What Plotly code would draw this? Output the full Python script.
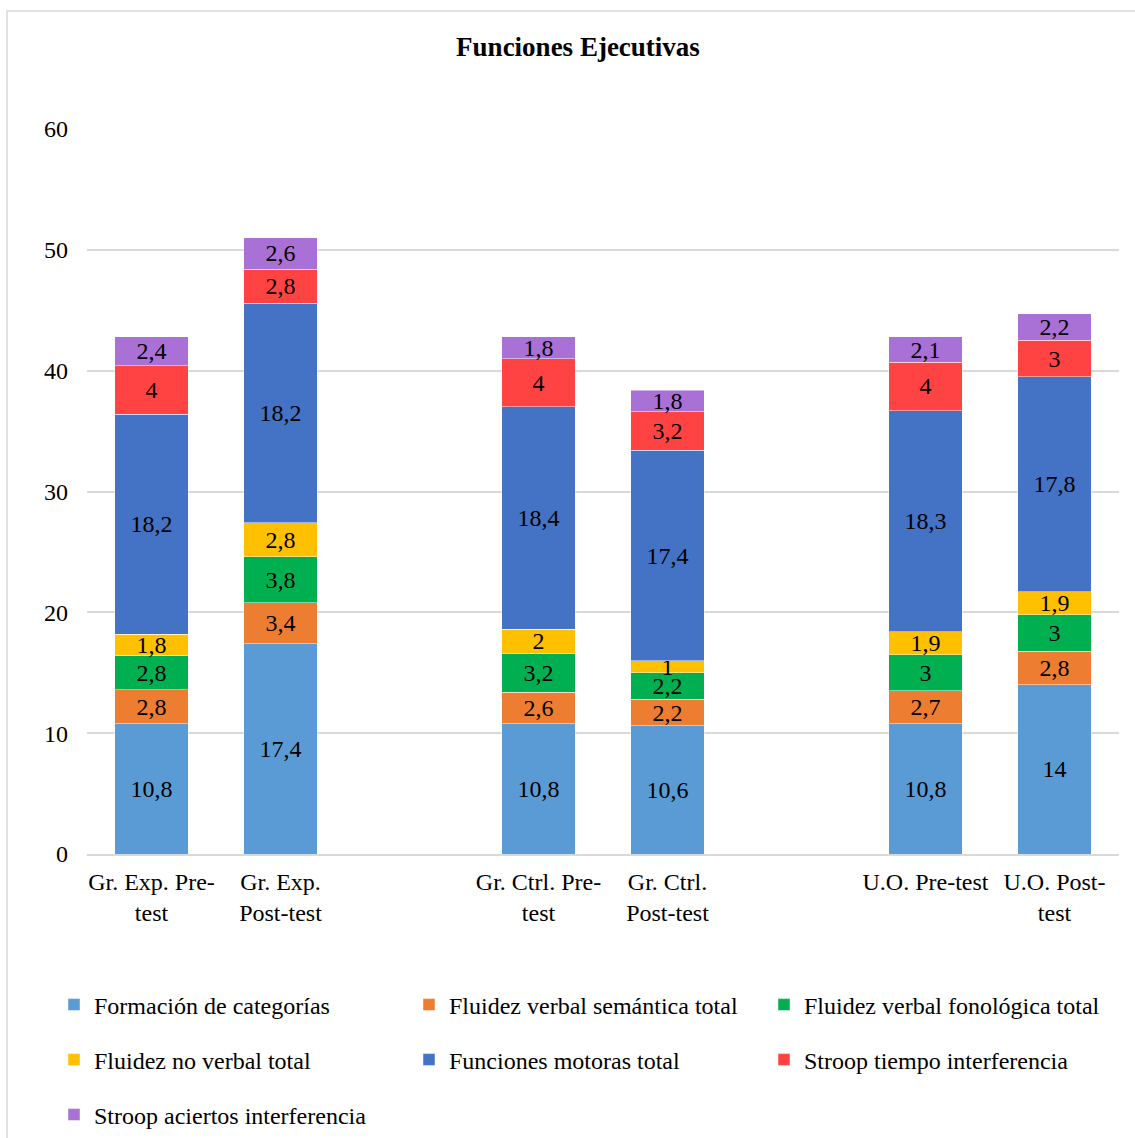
import plotly.graph_objects as go

categories = ["Gr. Exp. Pre-<br>test", "Gr. Exp.<br>Post-test", " ",
              "Gr. Ctrl. Pre-<br>test", "Gr. Ctrl.<br>Post-test", "  ",
              "U.O. Pre-test", "U.O. Post-<br>test"]

series_names = ["Formación de categorías", "Fluidez verbal semántica total",
                "Fluidez verbal fonológica total", "Fluidez no verbal total",
                "Funciones motoras total", "Stroop tiempo interferencia",
                "Stroop aciertos interferencia"]

formacion = [10.8, 17.4, None, 10.8, 10.6, None, 10.8, 14]
semantica = [2.8, 3.4, None, 2.6, 2.2, None, 2.7, 2.8]
fonologica = [2.8, 3.8, None, 3.2, 2.2, None, 3, 3]
no_verbal = [1.8, 2.8, None, 2, 1, None, 1.9, 1.9]
motoras = [18.2, 18.2, None, 18.4, 17.4, None, 18.3, 17.8]
stroop_tiempo = [4, 2.8, None, 4, 3.2, None, 4, 3]
stroop_aciertos = [2.4, 2.6, None, 1.8, 1.8, None, 2.1, 2.2]

series_values = [formacion, semantica, fonologica, no_verbal, motoras,
                 stroop_tiempo, stroop_aciertos]
colors = ["#5B9BD5", "#ED7D31", "#00B050", "#FFC000", "#4472C4", "#FF4343", "#A970D6"]
legend_ids = ["legend", "legend", "legend", "legend2", "legend2", "legend2", "legend3"]

FONT = "Liberation Serif, Times New Roman, serif"

W, H = 1135, 1138
ML, MR, MT, MB = 87, 16, 129, 284
PW = W - ML - MR
PH = H - MT - MB


def px_x(p):
    return (p - ML) / PW


def px_y(p):
    return (H - MB - p) / PH


def fmt(v):
    if v is None:
        return ""
    s = ("%g" % v)
    return s.replace(".", ",")


fig = go.Figure()
for name, vals, col, lg in zip(series_names, series_values, colors, legend_ids):
    fig.add_trace(go.Bar(
        x=categories, y=vals, name=name, legend=lg,
        marker=dict(color=col, line=dict(color="rgba(255,255,255,0.6)", width=0.8)),
        text=[fmt(v) for v in vals], textposition="inside",
        insidetextanchor="middle", textangle=0, constraintext="none",
        textfont=dict(family=FONT, size=24, color="black"),
        hoverinfo="skip",
    ))

legend_common = dict(orientation="h", xanchor="left", yanchor="middle",
                     entrywidth=310, entrywidthmode="pixels",
                     font=dict(family=FONT, size=24, color="black"),
                     itemwidth=30, bgcolor="rgba(0,0,0,0)", traceorder="normal")

fig.update_layout(
    width=W, height=H,
    margin=dict(l=ML, r=MR, t=MT, b=MB, autoexpand=False),
    barmode="stack", bargap=0.43,
    paper_bgcolor="white", plot_bgcolor="white",
    font=dict(family=FONT, size=24, color="black"),
    uniformtext=dict(minsize=24, mode="show"),
    title=dict(text="<b>Funciones Ejecutivas</b>", x=578 / W, xanchor="center",
               y=1 - 47 / H, yanchor="middle", xref="container", yref="container",
               font=dict(family=FONT, size=27, color="black")),
    xaxis=dict(type="category", showgrid=False, showline=True, linecolor="#D9D9D9",
               linewidth=1.5, ticks="", ticklabelstandoff=5,
               tickfont=dict(family=FONT, size=24, color="black"),
               tickangle=0, fixedrange=True),
    yaxis=dict(range=[0, 60], dtick=10, showgrid=True, gridcolor="#D9D9D9", gridwidth=1.5,
               zeroline=False, showline=False, ticks="", ticklabelstandoff=18,
               tickfont=dict(family=FONT, size=24, color="black"), fixedrange=True),
    legend=dict(x=px_x(54), y=px_y(1005), **legend_common),
    legend2=dict(x=px_x(54), y=px_y(1060), **legend_common),
    legend3=dict(x=px_x(54), y=px_y(1115), **legend_common),
    showlegend=True,
)

fig.add_shape(type="rect", xref="paper", yref="paper",
              x0=px_x(7), x1=px_x(1160), y0=px_y(1160), y1=px_y(11),
              line=dict(color="#D9D9D9", width=1.5), fillcolor="rgba(0,0,0,0)",
              layer="below")

fig.write_html("out.html")
